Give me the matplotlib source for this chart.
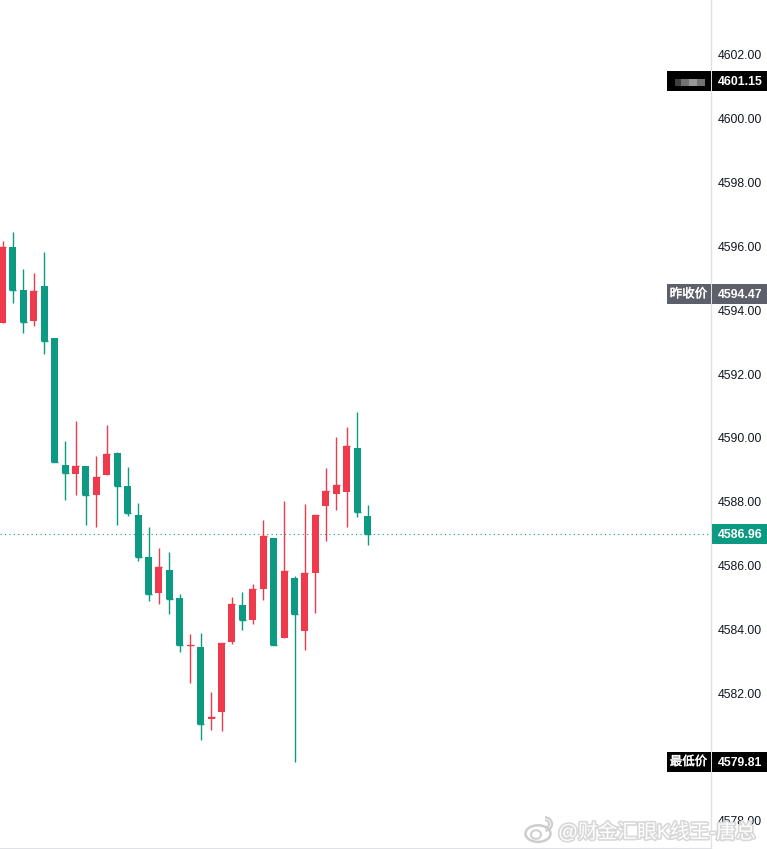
import numpy as np
import matplotlib
matplotlib.use("Agg")
import matplotlib.pyplot as plt
import matplotlib.patheffects as pe
from matplotlib.patches import Rectangle, Ellipse, Arc
from matplotlib.transforms import ScaledTranslation

plt.rcParams['font.family'] = ['Liberation Sans', 'Noto Sans CJK SC', 'DejaVu Sans']

# candle data. green = falling, red = rising
opens = [4593.58, 4595.96, 4594.61, 4593.64, 4594.73, 4593.10, 4589.12, 4588.84, 4589.09, 4588.18,
         4588.81, 4589.50, 4588.47, 4587.56, 4586.24, 4585.11, 4585.83, 4584.96, 4583.45, 4583.42,
         4581.17, 4581.39, 4583.58, 4584.74, 4584.27, 4585.24, 4586.84, 4583.70, 4585.58, 4583.92,
         4585.74, 4587.84, 4588.22, 4588.28, 4589.66, 4587.53]
highs = [4596.15, 4596.42, 4595.26, 4595.13, 4595.80, 4593.10, 4589.88, 4590.50, 4589.09, 4589.41,
         4590.36, 4589.53, 4589.06, 4587.93, 4587.18, 4586.52, 4586.40, 4585.08, 4583.84, 4583.86,
         4582.01, 4583.55, 4584.99, 4585.15, 4585.40, 4587.40, 4586.84, 4588.00, 4585.65, 4587.90,
         4587.56, 4589.03, 4590.00, 4590.31, 4590.78, 4587.87]
lows = [4593.58, 4594.21, 4593.27, 4593.48, 4592.60, 4589.20, 4588.03, 4588.18, 4587.24, 4587.19,
        4588.81, 4587.24, 4587.53, 4586.10, 4584.86, 4584.77, 4584.46, 4583.27, 4582.30, 4580.51,
        4580.82, 4580.79, 4583.52, 4583.96, 4584.14, 4584.90, 4583.49, 4583.70, 4579.81, 4583.33,
        4584.49, 4586.74, 4587.71, 4587.18, 4587.50, 4586.62]
closes = [4595.96, 4594.61, 4593.61, 4594.58, 4593.02, 4589.20, 4588.87, 4589.09, 4588.18, 4588.75,
          4589.47, 4588.47, 4587.62, 4586.24, 4585.08, 4585.93, 4584.93, 4583.49, 4583.49, 4581.01,
          4581.23, 4583.55, 4584.77, 4584.27, 4585.24, 4586.90, 4583.49, 4585.80, 4584.46, 4585.74,
          4587.56, 4588.31, 4588.50, 4589.72, 4587.65, 4586.96]

tick_prices = [4578, 4580, 4582, 4584, 4586, 4588, 4590, 4592, 4594, 4596, 4598, 4600, 4602]
last_price = 4586.96
tag_prices = [4601.15, 4594.47, 4586.96, 4579.81]
tag_names = ['', '昨收价', None, '最低价']  # None = no box on the left
tag_colors = ['#000000', '#5d606b', '#0d9a82', '#000000']

UP = '#ee3a4c'
DOWN = '#0d9a82'
ymin, ymax = 4577.09, 4603.69

fig = plt.figure(figsize=(7.67, 8.49), dpi=100, facecolor='white')
ax = fig.add_axes([0, 0, 711 / 767, 1])
ax.set_xlim(-0.24, 67.93)
ax.set_ylim(ymin, ymax)
ax.set_xticks([])
ax.yaxis.tick_right()
ax.set_yticks(tick_prices)
ax.set_yticklabels(['%.2f' % p for p in tick_prices], fontsize=8.8, color='#131722')
ax.tick_params(axis='y', length=0, pad=4.5)
# labels sit a pixel lower than the tick in the original
for lab in ax.get_yticklabels():
    lab.set_transform(lab.get_transform() + ScaledTranslation(0, -1 / 100, fig.dpi_scale_trans))
for s in ['top', 'left']:
    ax.spines[s].set_visible(False)
ax.spines['right'].set_color('#dfe1e5')
ax.spines['right'].set_linewidth(1)
ax.spines['bottom'].set_color('#dfe1e5')
ax.spines['bottom'].set_linewidth(1.5)

xs = np.arange(len(opens))
colors = [UP if c >= o else DOWN for o, c in zip(opens, closes)]
bottoms = [min(o, c) for o, c in zip(opens, closes)]
heights = [abs(o - c) for o, c in zip(opens, closes)]

ax.axhline(last_price, color=DOWN, lw=0.8, ls=(0, (1, 3)), zorder=1)
ax.vlines(xs, lows, highs, colors=colors, lw=1.0, zorder=2)
ax.bar(xs, heights, 0.67, bottoms, color=colors, linewidth=0, zorder=3)
# dojis still show a thin body
ax.hlines(closes, xs - 0.335, xs + 0.335, colors=colors, lw=1.0, zorder=3)

# overlay in pixel x so the price tags sit over the axis labels
over = fig.add_axes([0, 0, 1, 1], facecolor='none')
over.set_xlim(0, 767)
over.set_ylim(ymin, ymax)
over.axis('off')
tag_h = 0.62
for price, name, col in zip(tag_prices, tag_names, tag_colors):
    over.add_patch(Rectangle((712, price - tag_h / 2), 55, tag_h, color=col, lw=0))
    over.text(740, price - 0.02, '%.2f' % price, color='white', fontsize=8.8, fontweight='bold',
              ha='center', va='center')
    if name is not None:
        over.add_patch(Rectangle((667, price - tag_h / 2), 43.5, tag_h, color=col, lw=0))
    if name:
        over.text(688.5, price, name, color='white', fontsize=9.0, ha='center', va='center',
                  path_effects=[pe.withStroke(linewidth=0.3, foreground='white')])

# blurred out name on the first tag
for x0, w, a in [(675, 6, 0.25), (681, 8, 0.45), (689, 8, 0.6), (697, 8, 0.45)]:
    over.add_patch(Rectangle((x0, 4601.15 - 0.14), w, 0.2, color='white', alpha=a, lw=0))

# watermark
wm_y = ymax - 832 / 849 * (ymax - ymin)
halo = [pe.withStroke(linewidth=2.4, foreground='#d8d8d8')]
over.text(558, wm_y, '@财金汇眼K线王-唐总', color='white', fontsize=14.2, ha='left', va='center',
          path_effects=halo)
logo = '#cdcdcd'
over.add_patch(Ellipse((538, wm_y - 0.05), 25, 0.52, fill=False, ec=logo, lw=1.8))
over.add_patch(Ellipse((536, wm_y - 0.08), 10, 0.27, fill=False, ec=logo, lw=1.4))
over.add_patch(Arc((545, wm_y + 0.25), 14, 0.42, theta1=-30, theta2=100, ec=logo, lw=1.6))
over.add_patch(Arc((545, wm_y + 0.25), 8, 0.24, theta1=-30, theta2=100, ec=logo, lw=1.4))

fig.savefig('out.png', dpi=100)
